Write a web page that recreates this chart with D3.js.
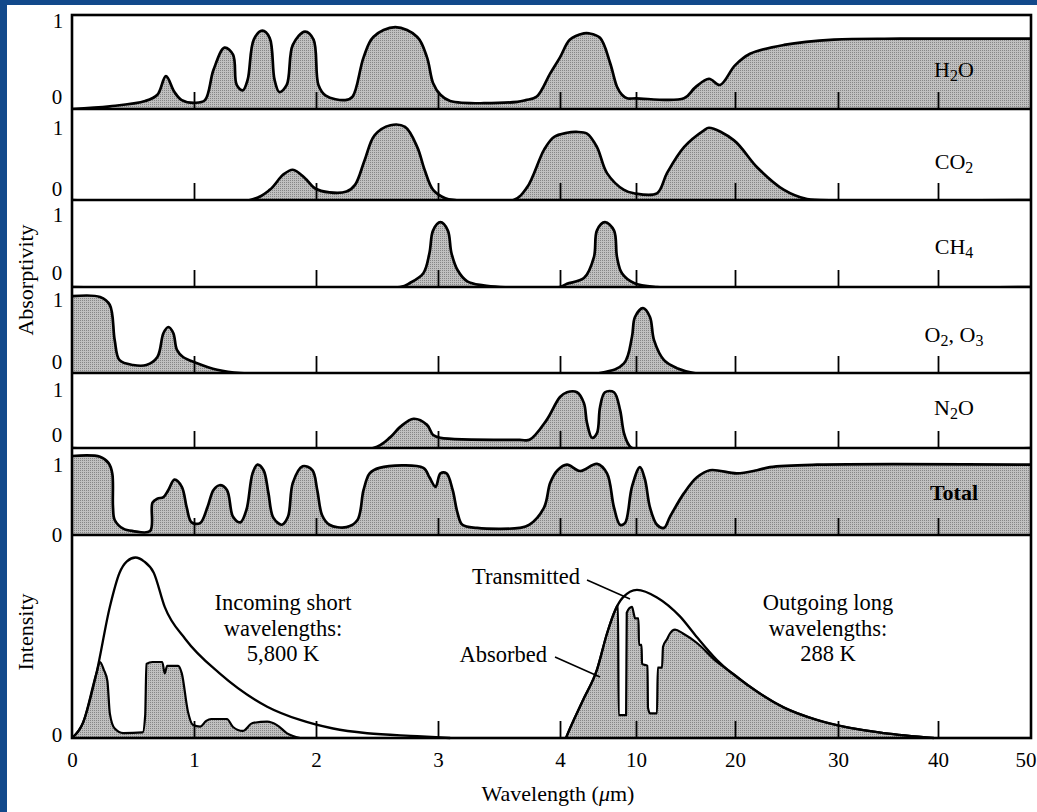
<!DOCTYPE html>
<html>
<head>
<meta charset="utf-8">
<script src="https://cdn.jsdelivr.net/npm/d3@7"></script>
<style>
  body { margin: 0; background: #12498b; }
  svg { display: block; font-family: "Liberation Serif", "Times New Roman", serif; }
</style>
</head>
<body>
<svg id="chart" width="1037" height="812"></svg>
<script>
// wavelength in micrometres, absorptivity 0..1
var tickMarks = [1, 2, 3, 4, 10, 20, 30, 40];
var tickLabels = [0, 1, 2, 3, 4, 10, 20, 30, 40, 50];

var gases = ["H2O", "CO2", "CH4", "O2, O3", "N2O", "Total"];

var h2oAbs = [[0,0],[0.31,0.03],[0.60,0.09],[0.70,0.16],[0.77,0.37],[0.84,0.19],[0.90,0.10],[1.01,0.07],
  [1.09,0.10],[1.16,0.44],[1.25,0.69],[1.32,0.61],[1.35,0.27],[1.40,0.21],[1.44,0.33],[1.49,0.78],[1.56,0.88],
  [1.62,0.80],[1.66,0.33],[1.70,0.19],[1.76,0.27],[1.81,0.72],[1.91,0.87],[1.98,0.78],[2.02,0.27],[2.08,0.15],
  [2.24,0.10],[2.30,0.14],[2.39,0.58],[2.47,0.81],[2.65,0.92],[2.83,0.81],[2.91,0.58],[2.96,0.29],[3.02,0.16],
  [3.10,0.09],[3.65,0.08],[3.72,0.10],[3.81,0.14],[3.92,0.40],[4.0,0.58],[4.79,0.78],[5.89,0.85],[6.29,0.85],
  [7.16,0.80],[7.95,0.52],[8.50,0.25],[8.89,0.16],[9.29,0.12],[10,0.12],[14.85,0.12],[15.96,0.24],[17.37,0.34],
  [18.48,0.27],[20.0,0.49],[21.46,0.62],[24.76,0.72],[29.61,0.78],[36.2,0.79],[50,0.79]];

var co2Abs = [[0,0],[1.46,0],[1.62,0.12],[1.73,0.30],[1.81,0.36],[1.91,0.26],[1.99,0.14],[2.11,0.09],[2.25,0.10],
  [2.32,0.18],[2.40,0.48],[2.48,0.77],[2.61,0.89],[2.73,0.87],[2.83,0.63],[2.89,0.36],[2.96,0.12],[3.06,0.02],
  [3.14,0],[3.62,0],[3.73,0.15],[3.87,0.60],[3.95,0.75],[4.55,0.80],[5.3,0.81],[6.13,0.79],[6.92,0.63],[7.71,0.32],
  [9.05,0.12],[9.84,0.08],[12.12,0.08],[13.13,0.32],[14.85,0.63],[16.87,0.83],[17.37,0.86],[19.9,0.71],
  [22.14,0.39],[24.76,0.12],[26.99,0.01],[28.25,0],[50,0]];

var ch4Abs = [[0,0],[2.69,0],[2.77,0.05],[2.88,0.17],[2.93,0.42],[2.96,0.70],[3.02,0.80],[3.08,0.70],[3.11,0.42],
  [3.16,0.21],[3.24,0.07],[3.37,0.02],[3.51,0],[4.0,0],[4.55,0.04],[5.89,0.11],[6.68,0.37],[6.92,0.70],
  [7.55,0.80],[8.26,0.70],[8.50,0.37],[8.89,0.17],[9.84,0.05],[12.12,0],[50,0]];

var o3Abs = [[0,0.96],[0.23,0.95],[0.31,0.85],[0.35,0.41],[0.39,0.16],[0.50,0.10],[0.61,0.10],[0.70,0.20],
  [0.75,0.50],[0.79,0.575],[0.83,0.50],[0.86,0.29],[0.91,0.20],[1.02,0.125],[1.19,0.04],[1.38,0],[7.16,0],
  [9.05,0.12],[9.68,0.45],[9.92,0.70],[10.71,0.81],[11.41,0.70],[11.82,0.41],[12.83,0.16],[14.14,0.06],
  [15.86,0],[50,0]];

var n2oAbs = [[0,0],[2.47,0],[2.61,0.16],[2.69,0.31],[2.80,0.43],[2.91,0.34],[2.96,0.19],[3.02,0.15],[3.67,0.12],
  [3.75,0.12],[3.89,0.41],[4.0,0.75],[4.55,0.82],[5.34,0.82],[5.89,0.66],[6.13,0.37],[6.53,0.15],[6.92,0.22],
  [7.16,0.60],[7.55,0.82],[8.26,0.82],[8.74,0.56],[9.05,0.22],[9.45,0.04],[9.68,0],[50,0]];

var totalAbs = [[0,1.0],[0.23,0.99],[0.30,0.91],[0.33,0.78],[0.336,0.35],[0.35,0.19],[0.42,0.08],[0.50,0.05],
  [0.64,0.05],[0.66,0.41],[0.70,0.46],[0.75,0.48],[0.79,0.57],[0.84,0.70],[0.90,0.61],[0.94,0.35],[0.98,0.16],
  [1.05,0.15],[1.11,0.35],[1.16,0.57],[1.21,0.63],[1.27,0.57],[1.32,0.23],[1.38,0.16],[1.43,0.32],[1.48,0.78],
  [1.52,0.89],[1.57,0.82],[1.61,0.53],[1.65,0.22],[1.72,0.13],[1.77,0.23],[1.81,0.66],[1.89,0.87],[1.97,0.82],
  [2.01,0.57],[2.05,0.25],[2.11,0.13],[2.25,0.10],[2.34,0.19],[2.39,0.57],[2.44,0.78],[2.52,0.85],[2.88,0.85],
  [2.93,0.73],[2.98,0.61],[3.02,0.78],[3.07,0.78],[3.12,0.57],[3.16,0.28],[3.20,0.13],[3.32,0.09],[3.67,0.09],
  [3.75,0.13],[3.87,0.35],[3.92,0.66],[3.98,0.82],[4.55,0.89],[5.58,0.81],[6.92,0.90],[7.71,0.78],[8.26,0.35],
  [8.74,0.13],[9.13,0.15],[9.68,0.61],[10.40,0.86],[10.91,0.70],[11.41,0.35],[12.12,0.13],[12.83,0.09],
  [13.43,0.23],[14.85,0.53],[16.16,0.73],[17.47,0.82],[20.19,0.78],[22.14,0.82],[23.40,0.86],[27.96,0.89],[50,0.89]];

var absorptivity = [h2oAbs, co2Abs, ch4Abs, o3Abs, n2oAbs, totalAbs];

// relative intensity
var solarIncoming = [[0,0],[0.09,0.08],[0.20,0.34],[0.31,0.69],[0.39,0.87],[0.45,0.93],[0.52,0.95],[0.59,0.93],
  [0.67,0.87],[0.76,0.69],[0.93,0.52],[1.21,0.34],[1.60,0.165],[1.87,0.095],[2.14,0.05],[2.42,0.025],
  [2.83,0.01],[3.10,0]];

var solarGround = [[0,0],[0.09,0.08],[0.20,0.34],[0.23,0.40],[0.26,0.36],[0.29,0.30],[0.31,0.13],[0.35,0.05],
  [0.42,0.026],[0.58,0.03],[0.60,0.12],[0.61,0.39],[0.66,0.40],[0.74,0.40],[0.76,0.34],[0.78,0.38],[0.87,0.38],
  [0.90,0.34],[0.95,0.14],[0.99,0.07],[1.05,0.06],[1.10,0.09],[1.14,0.10],[1.27,0.10],[1.32,0.058],[1.40,0.037],
  [1.48,0.079],[1.60,0.086],[1.68,0.068],[1.76,0.026],[1.87,0]];

var earthOutgoing = [[4.47,0],[4.63,0.026],[5.82,0.20],[6.92,0.36],[7.71,0.55],[8.34,0.67],[8.97,0.74],[10.1,0.78],
  [12.12,0.74],[14.44,0.64],[16.16,0.53],[18.18,0.41],[21.46,0.27],[24.76,0.16],[27.96,0.095],[31.2,0.053],
  [34.6,0.026],[39.6,0]];

var earthAbsorbed = [[4.47,0],[4.63,0.026],[5.82,0.20],[6.92,0.36],[7.71,0.55],[8.34,0.67],[8.58,0.70],[8.63,0.12],
  [9.22,0.12],[9.27,0.66],[9.68,0.69],[9.84,0.65],[9.92,0.63],[10.25,0.63],[10.30,0.49],[10.56,0.49],[10.61,0.39],
  [11.16,0.38],[11.21,0.16],[11.41,0.13],[12.12,0.13],[12.20,0.37],[12.63,0.37],[12.73,0.48],[13.13,0.52],
  [13.43,0.55],[13.94,0.57],[14.75,0.55],[16.16,0.50],[18.18,0.40],[19.9,0.335],[21.46,0.27],[24.76,0.16],
  [27.96,0.095],[31.2,0.053],[34.6,0.026],[39.6,0]];

var incomingText = ["Incoming short", "wavelengths:", "5,800 K"];
var outgoingText = ["Outgoing long", "wavelengths:", "288 K"];

// ---------- layout ----------
var left = 72, right = 1031;
var x = d3.scaleLinear()
  .domain([0, 4, 10, 20, 30, 40, 50])
  .range([left, 560, 636, 735, 838, 938, right]);

// top, base (value 0), one (value 1), label rows
var panelBoxes = [
  {top: 15,  base: 109, one: 20,  lab1: 21,  lab0: 97,  nameY: 77},
  {top: 109, base: 200, one: 116, lab1: 128, lab0: 189, nameY: 169},
  {top: 200, base: 287, one: 206, lab1: 215, lab0: 273, nameY: 254},
  {top: 287, base: 373, one: 293, lab1: 300, lab0: 362, nameY: 342},
  {top: 373, base: 448, one: 380, lab1: 390, lab0: 435, nameY: 415},
  {top: 448, base: 535, one: 456, lab1: 465, lab0: 535, nameY: 500}
];
var intBox = {top: 535, base: 738, one: 548};

var svg = d3.select("#chart");
svg.append("rect").attr("width", 1037).attr("height", 812).attr("fill", "#12498b");
svg.append("rect").attr("x", 7).attr("y", 5).attr("width", 1030).attr("height", 807).attr("fill", "#fff");

var defs = svg.append("defs");
var pat = defs.append("pattern").attr("id", "halftone")
  .attr("patternUnits", "userSpaceOnUse").attr("width", 2).attr("height", 2);
pat.append("rect").attr("width", 2).attr("height", 2).attr("fill", "#c0c0c0");
pat.append("rect").attr("width", 1).attr("height", 1).attr("fill", "#868686");

function clipFor(id, top, base) {
  defs.append("clipPath").attr("id", id).append("rect")
    .attr("x", left).attr("y", top).attr("width", right - left).attr("height", base - top);
  return "url(#" + id + ")";
}

function addSubscripted(textSel, label) {
  var parts = label.split(/(\d)/).filter(function (s) { return s.length; });
  var wasSub = false;
  parts.forEach(function (s) {
    var isSub = /^\d$/.test(s);
    var t = textSel.append("tspan").text(s);
    if (isSub) t.attr("font-size", 16).attr("dy", 4);
    else if (wasSub) t.attr("dy", -4);
    wasSub = isSub;
  });
}

function tickMarksAt(base) {
  var ax = d3.axisBottom(x).tickValues(tickMarks).tickSize(-17).tickFormat("");
  var g = svg.append("g").attr("transform", "translate(0," + base + ")").call(ax);
  g.select(".domain").remove();
  g.selectAll("line").attr("stroke", "#000").attr("stroke-width", 1.8);
}

// ---------- absorptivity panels ----------
panelBoxes.forEach(function (p, i) {
  var y = d3.scaleLinear().domain([0, 1]).range([p.base, p.one]);
  var curve = d3.curveCatmullRom.alpha(0.5);
  var area = d3.area().x(function (d) { return x(d[0]); }).y0(p.base)
    .y1(function (d) { return y(d[1]); }).curve(curve);
  var line = d3.line().x(function (d) { return x(d[0]); })
    .y(function (d) { return y(d[1]); }).curve(curve);

  var g = svg.append("g").attr("clip-path", clipFor("clip" + i, p.top, p.base));
  g.append("path").datum(absorptivity[i]).attr("d", area).attr("fill", "url(#halftone)");
  g.append("path").datum(absorptivity[i]).attr("d", line)
    .attr("fill", "none").attr("stroke", "#000").attr("stroke-width", 2.7).attr("stroke-linejoin", "round");

  tickMarksAt(p.base);

  svg.append("text").attr("x", 58).attr("y", p.lab1).attr("dy", "0.35em")
    .attr("text-anchor", "middle").attr("font-size", 21).text("1");
  svg.append("text").attr("x", 57).attr("y", p.lab0).attr("dy", "0.35em")
    .attr("text-anchor", "middle").attr("font-size", 21).text("0");

  var name = svg.append("text").attr("x", 954).attr("y", p.nameY)
    .attr("text-anchor", "middle").attr("font-size", 22);
  if (gases[i] === "Total") name.attr("font-weight", "bold");
  addSubscripted(name, gases[i]);
});

// ---------- intensity panel ----------
var yI = d3.scaleLinear().domain([0, 1]).range([intBox.base, intBox.one]);
var areaI = d3.area().x(function (d) { return x(d[0]); }).y0(intBox.base)
  .y1(function (d) { return yI(d[1]); }).curve(d3.curveMonotoneX);
var lineI = d3.line().x(function (d) { return x(d[0]); })
  .y(function (d) { return yI(d[1]); }).curve(d3.curveMonotoneX);

var gi = svg.append("g").attr("clip-path", clipFor("clipI", intBox.top, intBox.base + 2));
[solarGround, earthAbsorbed].forEach(function (s) {
  gi.append("path").datum(s).attr("d", areaI).attr("fill", "url(#halftone)")
    .attr("stroke", "#000").attr("stroke-width", 2.2).attr("stroke-linejoin", "round");
});
[solarIncoming, earthOutgoing].forEach(function (s) {
  gi.append("path").datum(s).attr("d", lineI).attr("fill", "none")
    .attr("stroke", "#000").attr("stroke-width", 2.3).attr("stroke-linejoin", "round");
});
tickMarksAt(intBox.base);

svg.append("text").attr("x", 57).attr("y", 735).attr("dy", "0.35em")
  .attr("text-anchor", "middle").attr("font-size", 21).text("0");

// ---------- frame and separators ----------
panelBoxes.forEach(function (p) {
  svg.append("line").attr("x1", left).attr("x2", right).attr("y1", p.base).attr("y2", p.base)
    .attr("stroke", "#000").attr("stroke-width", 2.4);
});
svg.append("rect").attr("x", left).attr("y", 15).attr("width", right - left).attr("height", intBox.base - 15)
  .attr("fill", "none").attr("stroke", "#000").attr("stroke-width", 2.6);

// ---------- bottom axis labels ----------
var bottomAxis = d3.axisBottom(x).tickValues(tickLabels).tickSize(0).tickPadding(14);
var ba = svg.append("g").attr("transform", "translate(0," + intBox.base + ")").call(bottomAxis);
ba.select(".domain").remove();
ba.selectAll("text").attr("font-family", "Liberation Serif").attr("font-size", 21).attr("fill", "#000");
// last label sits at the page edge
ba.selectAll("text").filter(function (d) { return d === 50; })
  .attr("text-anchor", "end").attr("x", 5);

var xt = svg.append("text").attr("x", 558).attr("y", 801).attr("text-anchor", "middle").attr("font-size", 22);
xt.append("tspan").text("Wavelength (");
xt.append("tspan").attr("font-style", "italic").text("\u03bc");
xt.append("tspan").text("m)");

svg.append("text").attr("transform", "translate(33,280) rotate(-90)")
  .attr("text-anchor", "middle").attr("font-size", 22).text("Absorptivity");
svg.append("text").attr("transform", "translate(33,632) rotate(-90)")
  .attr("text-anchor", "middle").attr("font-size", 22).text("Intensity");

// ---------- annotations ----------
function block(lines, cx, y0) {
  lines.forEach(function (s, k) {
    svg.append("text").attr("x", cx).attr("y", y0 + k * 25.5)
      .attr("text-anchor", "middle").attr("font-size", 22.5).text(s);
  });
}
block(incomingText, 283, 610);
block(outgoingText, 828, 610);

svg.append("text").attr("x", 580).attr("y", 584).attr("text-anchor", "end").attr("font-size", 22.5).text("Transmitted");
svg.append("text").attr("x", 547).attr("y", 662).attr("text-anchor", "end").attr("font-size", 22.5).text("Absorbed");
svg.append("line").attr("x1", 587).attr("y1", 580).attr("x2", 630).attr("y2", 599)
  .attr("stroke", "#000").attr("stroke-width", 1.5);
svg.append("line").attr("x1", 555).attr("y1", 657).attr("x2", 600).attr("y2", 677)
  .attr("stroke", "#000").attr("stroke-width", 1.5);
</script>
</body>
</html>
